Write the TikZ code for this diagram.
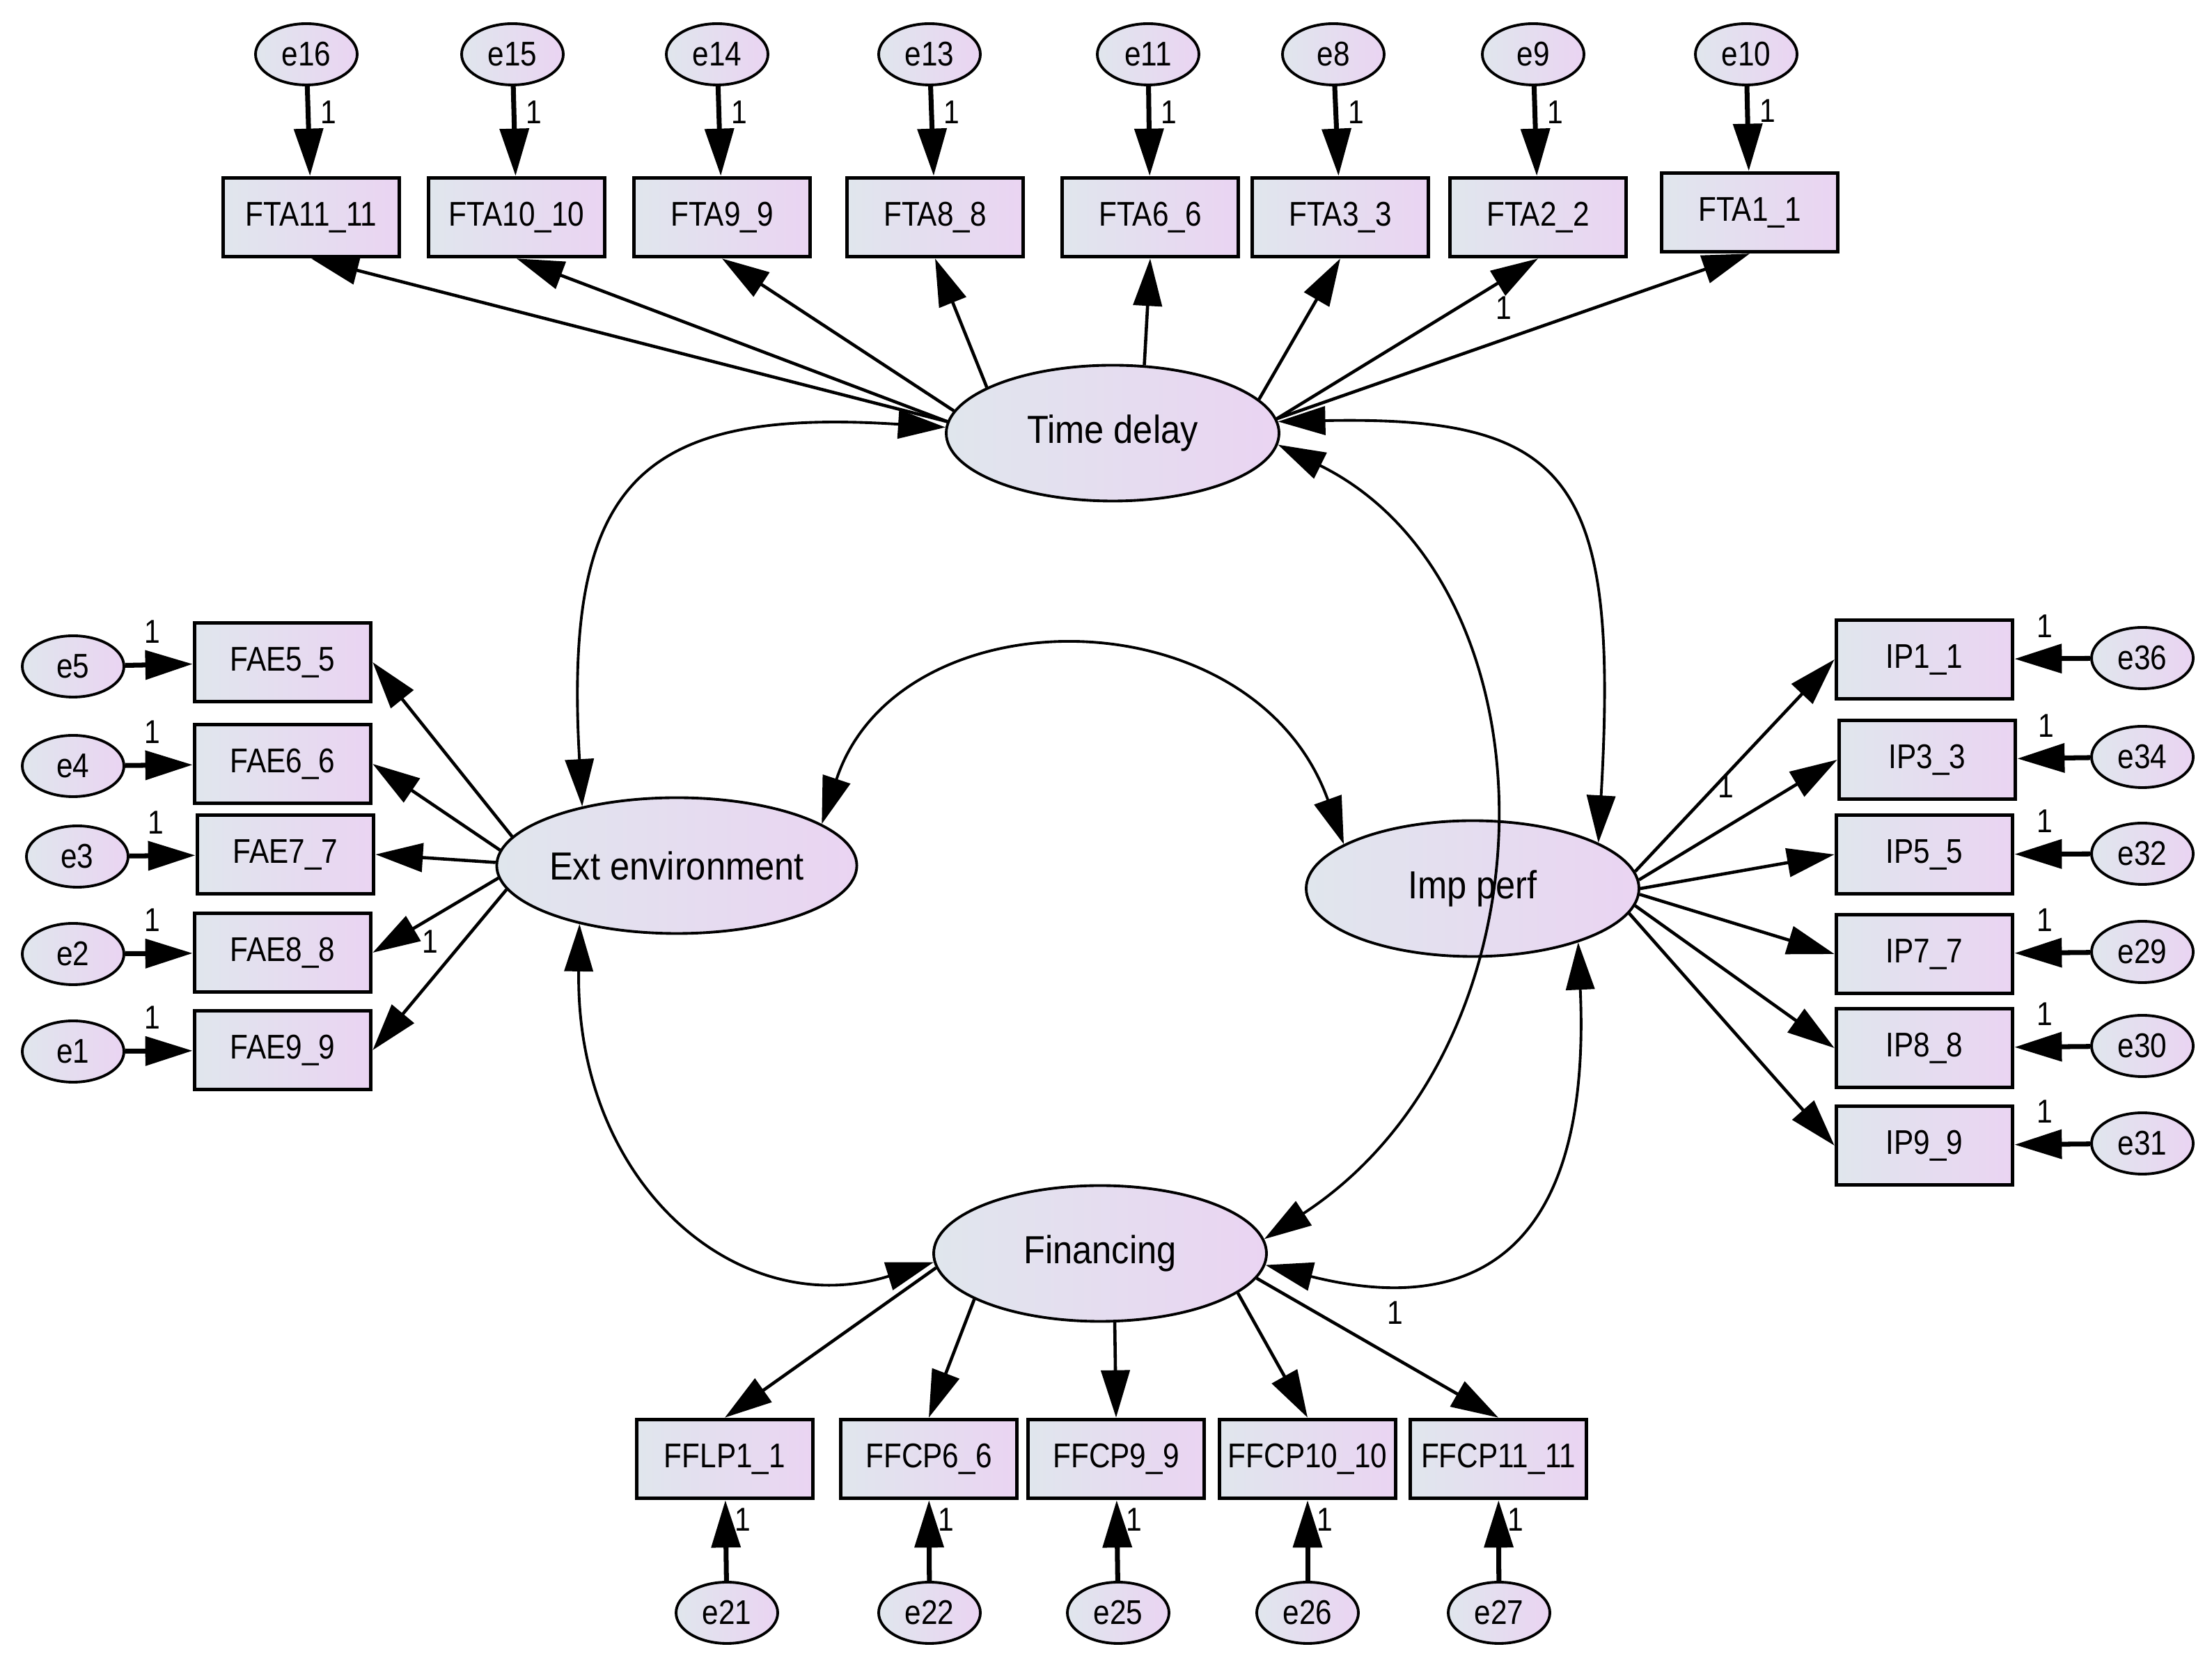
\documentclass[tikz,border=0pt]{standalone}
\usepackage{fontspec}
\setmainfont{Liberation Sans}
\newfontfamily\boxfont{Liberation Sans}[FakeStretch=0.86]
\newfontfamily\latfont{Liberation Sans}[FakeStretch=0.9]
\usepackage{tikz}
\usetikzlibrary{arrows.meta,shapes.geometric}
\definecolor{amosl}{HTML}{E0E6ED}
\definecolor{amosr}{HTML}{EAD4F2}

\begin{document}
\begin{tikzpicture}[>={Triangle[length=6.8mm,width=4.1mm]},
 obs/.style={draw, line width=1.6pt, left color=amosl, right color=amosr, minimum width=2.53cm, minimum height=1.13cm, inner sep=0pt, font=\boxfont\fontsize{14}{14}\selectfont},
 lat/.style={ellipse, draw, line width=1.1pt, left color=amosl, right color=amosr, minimum width=4.78cm, minimum height=1.95cm, inner sep=0pt, font=\latfont\fontsize{16}{16}\selectfont},
 err/.style={ellipse, draw, line width=1.1pt, left color=amosl, right color=amosr, minimum width=1.46cm, minimum height=0.88cm, inner sep=0pt, font=\boxfont\fontsize{14}{14}\selectfont},
 lab/.style={inner sep=0pt, font=\boxfont\fontsize{13.5}{13.5}\selectfont},
 load/.style={->, line width=1.3pt},
 erra/.style={->, line width=2pt},
 cov/.style={<->, line width=1.1pt}]
\useasboundingbox (0,0) rectangle (31.77,24.01);
\node [lat] (td) at (15.98,17.79) {Time delay};
\node [lat] (ext) at (9.72,11.58) {Ext environment};
\node [lat] (imp) at (21.15,11.25) {Imp perf};
\node [lat] (fin) at (15.80,6.01) {Financing};
\node [obs] (fta11) at (4.47,20.89) {FTA11\_11};
\node [obs] (fta10) at (7.42,20.89) {FTA10\_10};
\node [obs] (fta9) at (10.37,20.89) {FTA9\_9};
\node [obs] (fta8) at (13.43,20.89) {FTA8\_8};
\node [obs] (fta6) at (16.52,20.89) {FTA6\_6};
\node [obs] (fta3) at (19.25,20.89) {FTA3\_3};
\node [obs] (fta2) at (22.09,20.89) {FTA2\_2};
\node [obs] (fta1) at (25.13,20.96) {FTA1\_1};
\node [err] (e16) at (4.40,23.23) {e16};
\node [err] (e15) at (7.36,23.23) {e15};
\node [err] (e14) at (10.30,23.23) {e14};
\node [err] (e13) at (13.35,23.23) {e13};
\node [err] (e11) at (16.49,23.23) {e11};
\node [err] (e8) at (19.15,23.23) {e8};
\node [err] (e9) at (22.02,23.23) {e9};
\node [err] (e10) at (25.08,23.23) {e10};
\node [obs] (fae5) at (4.06,14.50) {FAE5\_5};
\node [obs] (fae6) at (4.06,13.04) {FAE6\_6};
\node [obs] (fae7) at (4.10,11.74) {FAE7\_7};
\node [obs] (fae8) at (4.06,10.33) {FAE8\_8};
\node [obs] (fae9) at (4.06,8.93) {FAE9\_9};
\node [err] (e5) at (1.05,14.44) {e5};
\node [err] (e4) at (1.05,13.01) {e4};
\node [err] (e3) at (1.11,11.71) {e3};
\node [err] (e2) at (1.05,10.31) {e2};
\node [err] (e1) at (1.05,8.91) {e1};
\node [obs] (ip1) at (27.64,14.54) {IP1\_1};
\node [obs] (ip3) at (27.68,13.10) {IP3\_3};
\node [obs] (ip5) at (27.64,11.74) {IP5\_5};
\node [obs] (ip7) at (27.64,10.31) {IP7\_7};
\node [obs] (ip8) at (27.64,8.96) {IP8\_8};
\node [obs] (ip9) at (27.64,7.56) {IP9\_9};
\node [err] (e36) at (30.77,14.56) {e36};
\node [err] (e34) at (30.77,13.14) {e34};
\node [err] (e32) at (30.77,11.75) {e32};
\node [err] (e29) at (30.77,10.34) {e29};
\node [err] (e30) at (30.77,8.99) {e30};
\node [err] (e31) at (30.77,7.59) {e31};
\node [obs] (fflp1) at (10.41,3.06) {FFLP1\_1};
\node [obs] (ffcp6) at (13.34,3.06) {FFCP6\_6};
\node [obs] (ffcp9) at (16.03,3.06) {FFCP9\_9};
\node [obs] (ffcp10) at (18.78,3.06) {FFCP10\_10};
\node [obs] (ffcp11) at (21.52,3.06) {FFCP11\_11};
\node [err] (e21) at (10.44,0.85) {e21};
\node [err] (e22) at (13.35,0.85) {e22};
\node [err] (e25) at (16.06,0.85) {e25};
\node [err] (e26) at (18.78,0.85) {e26};
\node [err] (e27) at (21.53,0.85) {e27};
\draw [load] (td.176) -- (fta11.south);
\draw [load] (td.176) -- (fta10.south);
\draw [load] (td.172) -- (fta9.south);
\draw [load] (td.160) -- (fta8.south);
\draw [load] (td.65) -- (fta6.south);
\draw [load] (td.13) -- (fta3.south);
\draw [load] (td.5) -- (fta2.south);
\draw [load] (td.5) -- (fta1.south);
\draw [load] (ext.170) -- (fae5.east);
\draw [load] (ext.175) -- (fae6.east);
\draw [load] (ext.179) -- (fae7.east);
\draw [load] (ext.184) -- (fae8.east);
\draw [load] (ext.188) -- (fae9.east);
\draw [load] (imp.6) -- (ip1.west);
\draw [load] (imp.3) -- (ip3.west);
\draw [load] (imp.0) -- (ip5.west);
\draw [load] (imp.-2) -- (ip7.west);
\draw [load] (imp.-6) -- (ip8.west);
\draw [load] (imp.-9) -- (ip9.west);
\draw [load] (fin.185) -- (fflp1.north);
\draw [load] (fin.200) -- (ffcp6.north);
\draw [load] (fin.282) -- (ffcp9.north);
\draw [load] (fin.344) -- (ffcp10.north);
\draw [load] (fin.351) -- (ffcp11.north);
\draw [erra] (e16) -- node [lab, pos=0.29, right=1.4mm] (l16) {1} (fta11);
\draw [erra] (e15) -- node [lab, pos=0.29, right=1.4mm] (l15) {1} (fta10);
\draw [erra] (e14) -- node [lab, pos=0.29, right=1.4mm] (l14) {1} (fta9);
\draw [erra] (e13) -- node [lab, pos=0.29, right=1.4mm] (l13) {1} (fta8);
\draw [erra] (e11) -- node [lab, pos=0.29, right=1.4mm] (l11) {1} (fta6);
\draw [erra] (e8) -- node [lab, pos=0.29, right=1.4mm] (l8) {1} (fta3);
\draw [erra] (e9) -- node [lab, pos=0.29, right=1.4mm] (l9) {1} (fta2);
\draw [erra] (e10) -- node [lab, pos=0.29, right=1.4mm] (l10) {1} (fta1);
\draw [erra] (e5) -- node [lab, pos=0.4, above=2.8mm] (l5) {1} (fae5);
\draw [erra] (e4) -- node [lab, pos=0.4, above=2.8mm] (l4) {1} (fae6);
\draw [erra] (e3) -- node [lab, pos=0.4, above=2.8mm] (l3) {1} (fae7);
\draw [erra] (e2) -- node [lab, pos=0.4, above=2.8mm] (l2) {1} (fae8);
\draw [erra] (e1) -- node [lab, pos=0.4, above=2.8mm] (l1) {1} (fae9);
\draw [erra] (e36) -- node [lab, pos=0.6, above=2.7mm] (l36) {1} (ip1);
\draw [erra] (e34) -- node [lab, pos=0.6, above=2.7mm] (l34) {1} (ip3);
\draw [erra] (e32) -- node [lab, pos=0.6, above=2.7mm] (l32) {1} (ip5);
\draw [erra] (e29) -- node [lab, pos=0.6, above=2.7mm] (l29) {1} (ip7);
\draw [erra] (e30) -- node [lab, pos=0.6, above=2.7mm] (l30) {1} (ip8);
\draw [erra] (e31) -- node [lab, pos=0.6, above=2.7mm] (l31) {1} (ip9);
\draw [erra] (e21) -- node [lab, pos=0.76, right=1mm] (l21) {1} (fflp1);
\draw [erra] (e22) -- node [lab, pos=0.76, right=1mm] (l22) {1} (ffcp6);
\draw [erra] (e25) -- node [lab, pos=0.76, right=1mm] (l25) {1} (ffcp9);
\draw [erra] (e26) -- node [lab, pos=0.76, right=1mm] (l26) {1} (ffcp10);
\draw [erra] (e27) -- node [lab, pos=0.76, right=1mm] (l27) {1} (ffcp11);
\node [lab] (lfta2) at (21.60,19.59) {1};
\node [lab] (lfae8) at (6.18,10.49) {1};
\node [lab] (lip1) at (24.79,12.72) {1};
\node [lab] (lffcp11) at (20.04,5.16) {1};
\draw [cov] (td.178) .. controls (9.17,18.16) and (8.09,17.08) .. (ext.148);
\draw [cov] (td.4) .. controls (22.56,18.04) and (23.26,17.15) .. (imp.20);
\draw [cov] (td.-4) .. controls (22.43,15.61) and (22.43,9.01) .. (fin.5);
\draw [cov] (ext.16) .. controls (12.90,15.51) and (18.00,15.51) .. (imp.161);
\draw [cov] (ext.211) .. controls (8.26,7.01) and (10.60,5.01) .. (fin.183);
\draw [cov] (imp.-27) .. controls (22.85,6.41) and (21.50,5.01) .. (fin.-4);
\end{tikzpicture}
\end{document}
